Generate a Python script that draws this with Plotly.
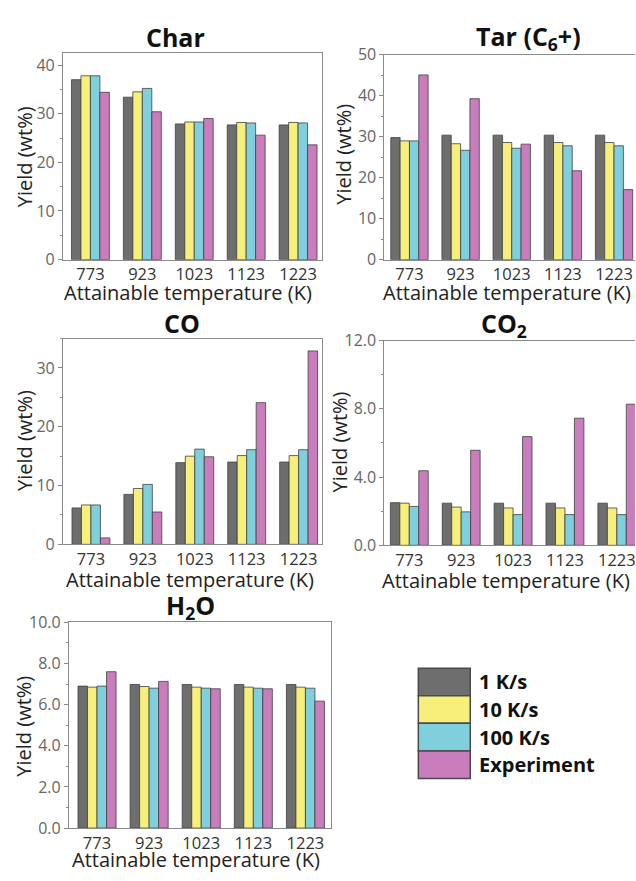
import plotly.graph_objects as go

# ---------------- data ----------------
temps = ["773", "923", "1023", "1123", "1223"]
series_names = ["1 K/s", "10 K/s", "100 K/s", "Experiment"]
series_colors = ["#6e6e6e", "#f6ef7c", "#7fcfdd", "#c97dbd"]

char_1 = [37.0, 33.4, 27.9, 27.7, 27.7]
char_10 = [37.8, 34.5, 28.3, 28.2, 28.2]
char_100 = [37.8, 35.2, 28.3, 28.1, 28.1]
char_exp = [34.4, 30.4, 29.0, 25.6, 23.6]

tar_1 = [29.8, 30.4, 30.4, 30.4, 30.4]
tar_10 = [29.0, 28.3, 28.6, 28.6, 28.6]
tar_100 = [29.0, 26.7, 27.2, 27.8, 27.8]
tar_exp = [45.1, 39.3, 28.2, 21.7, 17.1]

co_1 = [6.2, 8.5, 13.9, 14.0, 14.0]
co_10 = [6.7, 9.5, 15.0, 15.1, 15.1]
co_100 = [6.7, 10.2, 16.2, 16.1, 16.1]
co_exp = [1.1, 5.5, 14.9, 24.1, 32.9]

co2_1 = [2.50, 2.47, 2.47, 2.47, 2.47]
co2_10 = [2.47, 2.24, 2.19, 2.19, 2.19]
co2_100 = [2.28, 1.96, 1.80, 1.80, 1.80]
co2_exp = [4.37, 5.57, 6.37, 7.45, 8.27]

h2o_1 = [6.90, 6.98, 6.98, 6.98, 6.98]
h2o_10 = [6.85, 6.88, 6.85, 6.85, 6.85]
h2o_100 = [6.90, 6.80, 6.80, 6.80, 6.80]
h2o_exp = [7.60, 7.13, 6.77, 6.77, 6.17]

panel_titles = ["Char", "Tar (C<sub>6</sub>+)", "CO", "CO<sub>2</sub>", "H<sub>2</sub>O"]
x_title = "Attainable temperature (K)"
y_title = "Yield (wt%)"

# ---------------- layout helpers ----------------
W, H = 636, 881
FONT = "Open Sans, Noto Sans, sans-serif"


def fx(px):
    return px / W


def fy(py):
    return 1 - py / H


panels = [
    dict(data=[char_1, char_10, char_100, char_exp], xd=(63, 323), yd=(43, 255),
         xr=[-0.53, 4.47], yr=[0, 42.5], tv=[0, 10, 20, 30, 40], fmt="d", minor=5, mir=True,
         title_xy=(176, 27), xt_xy=(188, 289), yt_xy=(24, 149)),
    dict(data=[tar_1, tar_10, tar_100, tar_exp], xd=(385, 636), yd=(45, 255),
         xr=[-0.49, 4.41], yr=[0, 50], tv=[0, 10, 20, 30, 40, 50], fmt="d", minor=5, mir=False,
         title_xy=(529, 27), xt_xy=(508, 289), yt_xy=(344, 147)),
    dict(data=[co_1, co_10, co_100, co_exp], xd=(63, 323), yd=(336, 547),
         xr=[-0.54, 4.46], yr=[0, 35], tv=[0, 10, 20, 30], fmt="d", minor=5, mir=True,
         title_xy=(182, 320), xt_xy=(190, 583), yt_xy=(24, 440)),
    dict(data=[co2_1, co2_10, co2_100, co2_exp], xd=(385, 636), yd=(338, 548),
         xr=[-0.48, 4.35], yr=[0, 12], tv=[0, 4, 8, 12], fmt=".1f", minor=2, mir=False,
         title_xy=(505, 322), xt_xy=(507, 584), yt_xy=(340, 442)),
    dict(data=[h2o_1, h2o_10, h2o_100, h2o_exp], xd=(69, 332), yd=(627, 838),
         xr=[-0.54, 4.5], yr=[0, 10], tv=[0, 2, 4, 6, 8, 10], fmt=".1f", minor=1, mir=True,
         title_xy=(191, 611), xt_xy=(196, 870), yt_xy=(24, 733)),
]

fig = go.Figure()
annotations = []
shapes = []
layout = dict(
    width=W, height=H, autosize=False,
    margin=dict(l=0, r=0, t=0, b=0, pad=0),
    paper_bgcolor="white", plot_bgcolor="white",
    barmode="group", bargap=0.27, bargroupgap=0.0,
    showlegend=False,
    font=dict(family=FONT, color="#222"),
)

for i, p in enumerate(panels):
    n = i + 1
    xa = "x" if n == 1 else f"x{n}"
    ya = "y" if n == 1 else f"y{n}"
    for vals, name, col in zip(p["data"], series_names, series_colors):
        fig.add_trace(go.Bar(
            x=temps, y=vals, name=name, xaxis=xa, yaxis=ya,
            marker=dict(color=col, line=dict(color="#404040", width=0.8)),
            showlegend=False,
        ))
    layout["xaxis" if n == 1 else f"xaxis{n}"] = dict(
        domain=[fx(p["xd"][0]), fx(p["xd"][1])], anchor=ya,
        type="category", range=p["xr"],
        showline=True, linecolor="#8a8a8a", linewidth=1, mirror=True,
        ticks="", showgrid=False, zeroline=False,
        tickfont=dict(size=16.5, color="#333", family=FONT),
        fixedrange=True,
    )
    ticktext = [format(v, p["fmt"]) if p["fmt"] != "d" else str(v) for v in p["tv"]]
    layout["yaxis" if n == 1 else f"yaxis{n}"] = dict(
        domain=[fy(p["yd"][1]), fy(p["yd"][0])], anchor=xa,
        range=p["yr"], tickmode="array", tickvals=p["tv"], ticktext=ticktext,
        showline=True, linecolor="#8a8a8a", linewidth=1, mirror=p["mir"],
        ticks="outside", ticklen=4, tickcolor="#8a8a8a",
        minor=dict(dtick=p["minor"], tick0=0, ticks="outside", ticklen=2, tickcolor="#8a8a8a", showgrid=False),
        showgrid=False, zeroline=False,
        tickfont=dict(size=16, color="#666", family=FONT),
        fixedrange=True,
    )
    tx, ty = p["title_xy"]
    annotations.append(dict(
        text=f"<b>{panel_titles[i]}</b>", x=fx(tx), y=fy(ty), xref="paper", yref="paper",
        xanchor="center", yanchor="middle", showarrow=False,
        font=dict(size=25, color="#111", family=FONT),
    ))
    ax, ay = p["xt_xy"]
    annotations.append(dict(
        text=x_title, x=fx(ax), y=fy(ay), xref="paper", yref="paper",
        xanchor="center", yanchor="middle", showarrow=False,
        font=dict(size=20, color="#222", family=FONT),
    ))
    yx, yy = p["yt_xy"]
    annotations.append(dict(
        text=y_title, x=fx(yx), y=fy(yy), xref="paper", yref="paper",
        xanchor="center", yanchor="middle", showarrow=False, textangle=-90,
        font=dict(size=20, color="#222", family=FONT),
    ))

# ---------------- custom legend ----------------
leg_x0, leg_x1 = 419, 471
leg_y0, leg_h = 674, 28.3
for k, (name, col) in enumerate(zip(series_names, series_colors)):
    y0 = leg_y0 + k * leg_h
    shapes.append(dict(
        type="rect", xref="paper", yref="paper",
        x0=fx(leg_x0), x1=fx(leg_x1), y0=fy(y0 + leg_h), y1=fy(y0),
        fillcolor=col, line=dict(color="#4a4a4a", width=1.5),
    ))
    annotations.append(dict(
        text=f"<b>{name}</b>", x=fx(478), y=fy(y0 + leg_h / 2), xref="paper", yref="paper",
        xanchor="left", yanchor="middle", showarrow=False,
        font=dict(size=20, color="#111", family=FONT),
    ))

layout["annotations"] = annotations
layout["shapes"] = shapes
fig.update_layout(**layout)

post = (
    "var de=document.documentElement,b=document.body;"
    "de.style.margin='0';de.style.padding='0';de.style.height='881px';de.style.overflow='hidden';"
    "b.style.margin='0';b.style.padding='0';b.style.height='881px';b.style.overflow='hidden';"
    "var gd=document.getElementById('{plot_id}');"
    "if(gd&&gd.parentElement){gd.parentElement.style.height='881px';"
    "gd.parentElement.style.overflow='hidden';gd.parentElement.style.lineHeight='0';}"
)
fig.write_html("out.html", config={"displayModeBar": False, "staticPlot": True},
               post_script=post)
